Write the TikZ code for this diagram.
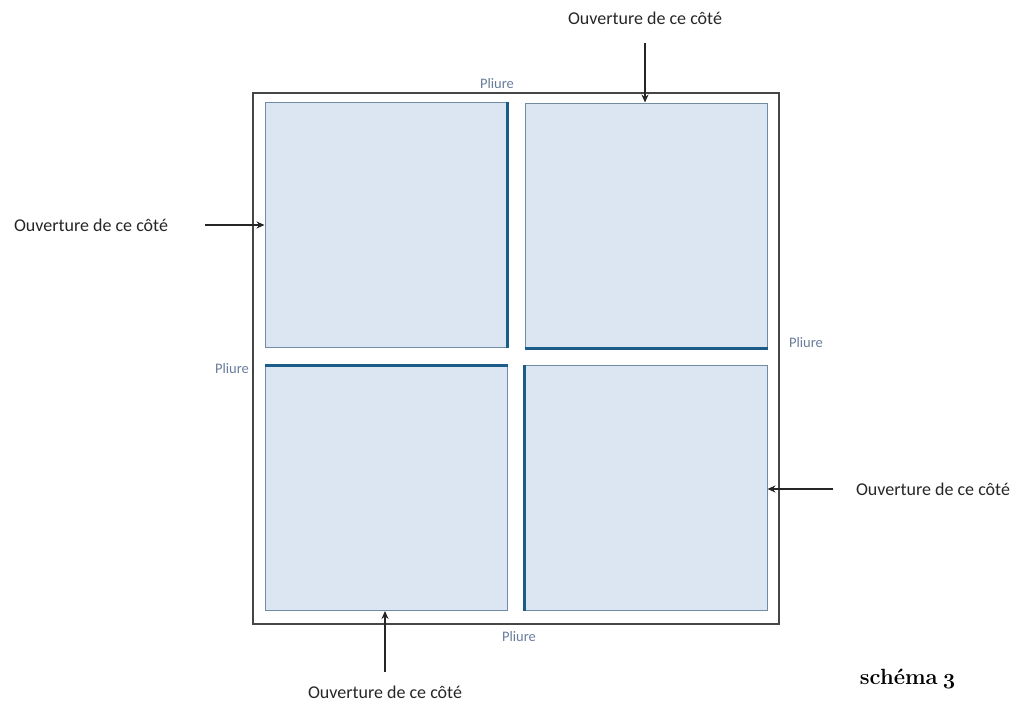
\documentclass[tikz,border=0pt]{standalone}
\usepackage{fontspec}
\setmainfont{Latin Modern Roman}
\newfontfamily\calib{Carlito}
\usetikzlibrary{arrows.meta,calc}
\definecolor{sqfill}{RGB}{220,230,242}
\definecolor{sqline}{RGB}{112,140,165}
\definecolor{foldcol}{RGB}{28,92,136}
\definecolor{pliurecol}{RGB}{105,125,155}
\definecolor{boxcol}{RGB}{70,70,70}
\tikzset{
  sq/.style={draw=sqline, fill=sqfill, line width=1pt, inner sep=0pt, minimum width=242pt, minimum height=245pt},
  fold/.style={draw=foldcol, line width=3pt},
  outerbox/.style={draw=boxcol, line width=2pt, inner sep=0pt, minimum width=526pt, minimum height=531pt},
  lab/.style={font=\calib\fontsize{18}{21}\selectfont, text=black!85, inner sep=0pt},
  pli/.style={font=\calib\fontsize{14.5}{17}\selectfont, text=pliurecol, inner sep=0pt},
  arr/.style={draw=black!85, line width=1.3pt, -{Stealth[length=8pt,width=7pt]}}
}
\begin{document}
\begin{tikzpicture}[x=1pt,y=-1pt]
\useasboundingbox (0,0) rectangle (1029,702);
\node[outerbox] (outer) at (516,358.5) {};
\node[sq] (tl) at (386,225) {};
\node[sq] (tr) at (646,225.5) {};
\node[sq] (bl) at (386,488) {};
\node[sq] (br) at (646,488) {};
\draw[fold] (tl.north east) -- (tl.south east);
\draw[fold] (tr.south west) -- (tr.south east);
\draw[fold] (bl.north west) -- (bl.north east);
\draw[fold] (br.north west) -- (br.south west);
\node[pli] (p1) at (497,84) {Pliure};
\node[pli] (p2) at (232,369) {Pliure};
\node[pli] (p3) at (806,343) {Pliure};
\node[pli] (p4) at (519,637) {Pliure};
\node[lab] (ltop) at (645,18) {Ouverture de ce côté};
\node[lab] (lleft) at (91,225) {Ouverture de ce côté};
\node[lab] (lright) at (933,489) {Ouverture de ce côté};
\node[lab] (lbot) at (385,692) {Ouverture de ce côté};
\coordinate (atop) at (645,43);
\coordinate (aleft) at (205,225);
\coordinate (aright) at (833,489);
\coordinate (abot) at (385,672);
\draw[arr] (atop) -- (atop |- tr.north);
\draw[arr] (aleft) -- (aleft -| tl.west);
\draw[arr] (aright) -- (aright -| br.east);
\draw[arr] (abot) -- (abot |- bl.south);
\node[font=\fontsize{22}{26}\selectfont\bfseries, inner sep=0pt] (sch) at (908,679) {schéma\hspace{0.2em}\oldstylenums{3}};
\end{tikzpicture}
\end{document}
